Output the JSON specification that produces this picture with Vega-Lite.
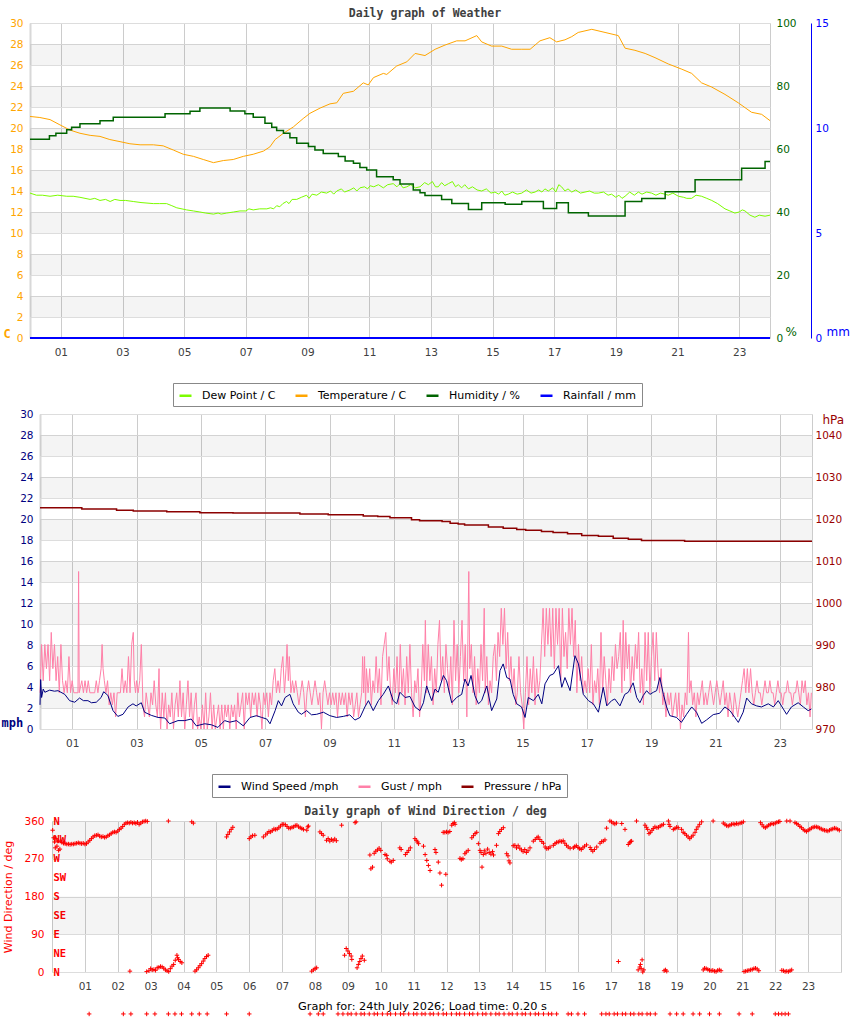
{
  "$schema": "https://vega.github.io/schema/vega-lite/v6.json",
  "padding": {"left": 0, "top": 7, "right": 0, "bottom": 0},
  "config": {
    "view": {"stroke": "#cccccc"},
    "font": "DejaVu Sans",
    "axis": {"labelFont": "DejaVu Sans", "labelFontSize": 10.5, "titleFont": "DejaVu Sans", "ticks": false, "tickSize": 0, "domain": false, "labelBound": false, "labelOverlap": false, "labelSeparation": 0}
  },
  "datasets": {
    "bands30": [{"lo": 2, "hi": 4}, {"lo": 6, "hi": 8}, {"lo": 10, "hi": 12}, {"lo": 14, "hi": 16}, {"lo": 18, "hi": 20}, {"lo": 22, "hi": 24}, {"lo": 26, "hi": 28}],
    "bands360": [{"lo": 90, "hi": 180}, {"lo": 270, "hi": 360}],
    "temp": [{"h":0,"v":21.1},{"h":0.32,"v":21.0},{"h":0.65,"v":20.8},{"h":0.97,"v":20.3},{"h":1.3,"v":19.8},{"h":1.62,"v":19.5},{"h":1.95,"v":19.3},{"h":2.27,"v":19.2},{"h":2.59,"v":18.9},{"h":2.92,"v":18.7},{"h":3.24,"v":18.5},{"h":3.57,"v":18.4},{"h":4.0,"v":18.4},{"h":4.32,"v":18.3},{"h":4.65,"v":17.9},{"h":4.97,"v":17.5},{"h":5.3,"v":17.3},{"h":5.62,"v":17.0},{"h":5.95,"v":16.7},{"h":6.27,"v":16.9},{"h":6.59,"v":17.0},{"h":6.92,"v":17.3},{"h":7.24,"v":17.5},{"h":7.57,"v":17.8},{"h":7.78,"v":18.2},{"h":7.95,"v":18.9},{"h":8.22,"v":19.5},{"h":8.54,"v":20.1},{"h":8.86,"v":20.9},{"h":9.08,"v":21.4},{"h":9.41,"v":21.9},{"h":9.73,"v":22.3},{"h":9.95,"v":22.4},{"h":10.16,"v":23.3},{"h":10.49,"v":23.5},{"h":10.81,"v":24.3},{"h":10.97,"v":24.1},{"h":11.14,"v":24.8},{"h":11.46,"v":25.2},{"h":11.57,"v":25.1},{"h":11.89,"v":25.9},{"h":12.22,"v":26.3},{"h":12.49,"v":27.1},{"h":12.81,"v":26.9},{"h":13.14,"v":27.5},{"h":13.46,"v":27.9},{"h":13.84,"v":28.3},{"h":14.11,"v":28.3},{"h":14.49,"v":28.8},{"h":14.65,"v":28.2},{"h":14.97,"v":27.8},{"h":15.3,"v":27.8},{"h":15.62,"v":27.5},{"h":15.95,"v":27.5},{"h":16.22,"v":27.5},{"h":16.54,"v":28.3},{"h":16.86,"v":28.6},{"h":17.08,"v":28.2},{"h":17.35,"v":28.4},{"h":17.57,"v":28.7},{"h":17.78,"v":29.1},{"h":18.22,"v":29.4},{"h":18.65,"v":29.1},{"h":19.08,"v":28.8},{"h":19.3,"v":27.6},{"h":19.62,"v":27.4},{"h":19.95,"v":27.1},{"h":20.27,"v":26.7},{"h":20.7,"v":26.1},{"h":21.14,"v":25.6},{"h":21.46,"v":25.2},{"h":21.78,"v":24.3},{"h":22.11,"v":23.9},{"h":22.54,"v":23.2},{"h":22.97,"v":22.4},{"h":23.4,"v":21.5},{"h":23.73,"v":21.3},{"h":24.0,"v":20.7}],
    "dew": [{"h":0,"v":13.8},{"h":0.21,"v":13.6},{"h":0.4,"v":13.6},{"h":0.65,"v":13.5},{"h":0.9,"v":13.6},{"h":1.19,"v":13.5},{"h":1.4,"v":13.5},{"h":1.62,"v":13.4},{"h":1.95,"v":13.2},{"h":2.1,"v":13.3},{"h":2.27,"v":13.1},{"h":2.45,"v":13.2},{"h":2.6,"v":13.0},{"h":2.75,"v":13.2},{"h":2.92,"v":13.1},{"h":3.1,"v":13.1},{"h":3.35,"v":13.0},{"h":3.6,"v":12.9},{"h":4.0,"v":12.8},{"h":4.2,"v":12.8},{"h":4.43,"v":12.8},{"h":4.6,"v":12.6},{"h":4.76,"v":12.4},{"h":5.08,"v":12.2},{"h":5.3,"v":12.1},{"h":5.51,"v":12.0},{"h":5.7,"v":11.9},{"h":5.95,"v":11.8},{"h":6.1,"v":11.9},{"h":6.2,"v":11.8},{"h":6.38,"v":11.9},{"h":6.6,"v":12.0},{"h":6.81,"v":12.1},{"h":7.0,"v":12.1},{"h":7.1,"v":12.3},{"h":7.24,"v":12.2},{"h":7.45,"v":12.3},{"h":7.68,"v":12.3},{"h":7.8,"v":12.4},{"h":7.9,"v":12.3},{"h":8.0,"v":12.6},{"h":8.1,"v":12.5},{"h":8.2,"v":12.8},{"h":8.32,"v":13.0},{"h":8.4,"v":12.8},{"h":8.5,"v":13.2},{"h":8.65,"v":13.2},{"h":8.8,"v":13.4},{"h":8.97,"v":13.6},{"h":9.05,"v":13.3},{"h":9.15,"v":13.7},{"h":9.3,"v":13.6},{"h":9.45,"v":13.9},{"h":9.62,"v":13.8},{"h":9.75,"v":14.0},{"h":9.85,"v":13.7},{"h":9.95,"v":14.0},{"h":10.1,"v":14.2},{"h":10.2,"v":13.9},{"h":10.38,"v":14.1},{"h":10.5,"v":14.3},{"h":10.6,"v":14.0},{"h":10.7,"v":14.3},{"h":10.85,"v":14.4},{"h":10.95,"v":14.2},{"h":11.03,"v":14.5},{"h":11.15,"v":14.4},{"h":11.3,"v":14.6},{"h":11.46,"v":14.3},{"h":11.6,"v":14.6},{"h":11.78,"v":14.7},{"h":11.9,"v":14.4},{"h":12.0,"v":14.7},{"h":12.1,"v":14.3},{"h":12.22,"v":14.4},{"h":12.35,"v":14.6},{"h":12.5,"v":14.3},{"h":12.65,"v":14.4},{"h":12.8,"v":14.8},{"h":12.92,"v":14.6},{"h":13.05,"v":14.9},{"h":13.15,"v":14.4},{"h":13.24,"v":14.4},{"h":13.35,"v":14.8},{"h":13.45,"v":14.5},{"h":13.57,"v":14.7},{"h":13.7,"v":14.9},{"h":13.8,"v":14.4},{"h":13.89,"v":14.6},{"h":14.0,"v":14.3},{"h":14.1,"v":14.6},{"h":14.22,"v":14.2},{"h":14.35,"v":14.4},{"h":14.5,"v":14.1},{"h":14.65,"v":14.0},{"h":14.8,"v":14.2},{"h":14.95,"v":13.8},{"h":15.08,"v":13.9},{"h":15.2,"v":13.7},{"h":15.3,"v":14.0},{"h":15.4,"v":13.6},{"h":15.51,"v":13.7},{"h":15.65,"v":13.9},{"h":15.8,"v":13.7},{"h":15.95,"v":13.8},{"h":16.1,"v":14.1},{"h":16.25,"v":13.8},{"h":16.38,"v":13.9},{"h":16.5,"v":14.1},{"h":16.6,"v":13.9},{"h":16.7,"v":14.2},{"h":16.81,"v":14.0},{"h":16.95,"v":14.3},{"h":17.05,"v":13.9},{"h":17.15,"v":14.6},{"h":17.24,"v":14.4},{"h":17.35,"v":14.0},{"h":17.45,"v":14.2},{"h":17.57,"v":13.9},{"h":17.7,"v":14.1},{"h":17.85,"v":13.8},{"h":18.0,"v":13.9},{"h":18.15,"v":14.0},{"h":18.3,"v":13.8},{"h":18.43,"v":13.8},{"h":18.6,"v":13.9},{"h":18.75,"v":13.6},{"h":18.86,"v":13.7},{"h":19.0,"v":13.4},{"h":19.1,"v":13.6},{"h":19.2,"v":13.3},{"h":19.3,"v":13.5},{"h":19.45,"v":13.9},{"h":19.6,"v":13.6},{"h":19.73,"v":13.9},{"h":19.85,"v":13.7},{"h":20.0,"v":13.9},{"h":20.16,"v":13.8},{"h":20.3,"v":13.6},{"h":20.45,"v":13.8},{"h":20.59,"v":13.7},{"h":20.7,"v":13.6},{"h":20.85,"v":13.8},{"h":21.03,"v":13.5},{"h":21.2,"v":13.4},{"h":21.3,"v":13.3},{"h":21.46,"v":13.3},{"h":21.6,"v":13.6},{"h":21.78,"v":13.5},{"h":21.95,"v":13.3},{"h":22.11,"v":13.1},{"h":22.3,"v":12.8},{"h":22.54,"v":12.3},{"h":22.7,"v":12.1},{"h":22.86,"v":11.9},{"h":23.0,"v":12.0},{"h":23.1,"v":12.2},{"h":23.19,"v":12.1},{"h":23.35,"v":11.7},{"h":23.51,"v":11.5},{"h":23.65,"v":11.7},{"h":23.84,"v":11.6},{"h":24.0,"v":11.7}],
    "hum": [{"h":0,"v":63.1},{"h":0.63,"v":64.2},{"h":0.84,"v":65.0},{"h":1.19,"v":66.1},{"h":1.35,"v":66.9},{"h":1.62,"v":68.0},{"h":2.27,"v":69.0},{"h":2.7,"v":70.1},{"h":4.38,"v":71.2},{"h":5.19,"v":72.0},{"h":5.51,"v":73.0},{"h":6.49,"v":72.1},{"h":6.97,"v":71.2},{"h":7.24,"v":70.1},{"h":7.62,"v":68.2},{"h":7.84,"v":66.9},{"h":8.0,"v":65.9},{"h":8.22,"v":65.0},{"h":8.43,"v":63.6},{"h":8.65,"v":61.8},{"h":9.03,"v":60.8},{"h":9.24,"v":59.7},{"h":9.51,"v":58.6},{"h":10.0,"v":57.6},{"h":10.22,"v":56.2},{"h":10.49,"v":55.5},{"h":10.7,"v":54.1},{"h":10.92,"v":53.3},{"h":11.24,"v":51.2},{"h":11.78,"v":50.2},{"h":12.0,"v":48.9},{"h":12.43,"v":47.0},{"h":12.65,"v":46.1},{"h":12.81,"v":45.2},{"h":13.35,"v":44.0},{"h":13.68,"v":42.7},{"h":14.22,"v":40.8},{"h":14.65,"v":42.9},{"h":15.41,"v":42.5},{"h":15.95,"v":43.3},{"h":16.65,"v":41.1},{"h":17.08,"v":42.9},{"h":17.46,"v":39.8},{"h":18.11,"v":38.7},{"h":19.3,"v":43.3},{"h":19.84,"v":44.3},{"h":20.6,"v":46.4},{"h":21.57,"v":50.2},{"h":23.08,"v":53.9},{"h":23.84,"v":56.0},{"h":24.0,"v":56.0}],
    "rain": [{"h":0,"v":0},{"h":24,"v":0}],
    "wind": [{"h":0,"v":2.3},{"h":0.02,"v":4.7},{"h":0.05,"v":3.0},{"h":0.1,"v":3.8},{"h":0.15,"v":3.5},{"h":0.3,"v":3.7},{"h":0.45,"v":3.6},{"h":0.56,"v":3.65},{"h":0.77,"v":3.3},{"h":0.92,"v":2.7},{"h":1.08,"v":2.55},{"h":1.23,"v":2.95},{"h":1.35,"v":2.7},{"h":1.49,"v":2.7},{"h":1.6,"v":2.5},{"h":1.75,"v":2.55},{"h":1.9,"v":3.0},{"h":1.98,"v":3.55},{"h":2.11,"v":3.2},{"h":2.27,"v":1.75},{"h":2.42,"v":1.2},{"h":2.58,"v":1.4},{"h":2.74,"v":2.1},{"h":2.89,"v":2.4},{"h":2.99,"v":2.2},{"h":3.15,"v":2.5},{"h":3.25,"v":1.6},{"h":3.46,"v":1.3},{"h":3.67,"v":1.1},{"h":3.88,"v":1.05},{"h":4.03,"v":0.5},{"h":4.29,"v":0.8},{"h":4.5,"v":0.8},{"h":4.7,"v":0.95},{"h":4.86,"v":0.3},{"h":5.12,"v":0.5},{"h":5.33,"v":0.4},{"h":5.53,"v":0.15},{"h":5.74,"v":0.8},{"h":5.9,"v":0.65},{"h":6.11,"v":0.8},{"h":6.32,"v":0.3},{"h":6.53,"v":1.1},{"h":6.73,"v":1.27},{"h":6.89,"v":1.1},{"h":7.05,"v":0.95},{"h":7.15,"v":0.5},{"h":7.31,"v":1.75},{"h":7.41,"v":2.7},{"h":7.51,"v":2.2},{"h":7.62,"v":3.0},{"h":7.77,"v":3.3},{"h":7.87,"v":2.4},{"h":8.03,"v":1.6},{"h":8.13,"v":1.4},{"h":8.29,"v":1.75},{"h":8.44,"v":1.35},{"h":8.6,"v":1.4},{"h":8.81,"v":1.6},{"h":9.01,"v":1.27},{"h":9.22,"v":1.1},{"h":9.43,"v":1.2},{"h":9.63,"v":1.35},{"h":9.79,"v":0.85},{"h":9.95,"v":1.1},{"h":10.1,"v":2.1},{"h":10.21,"v":2.7},{"h":10.36,"v":1.75},{"h":10.52,"v":2.7},{"h":10.67,"v":3.3},{"h":10.83,"v":4.1},{"h":10.98,"v":2.7},{"h":11.09,"v":2.4},{"h":11.19,"v":3.5},{"h":11.35,"v":3.0},{"h":11.5,"v":3.1},{"h":11.66,"v":2.1},{"h":11.81,"v":1.75},{"h":11.92,"v":2.5},{"h":12.02,"v":4.1},{"h":12.12,"v":3.17},{"h":12.18,"v":2.7},{"h":12.28,"v":3.8},{"h":12.38,"v":3.5},{"h":12.54,"v":5.1},{"h":12.64,"v":4.6},{"h":12.8,"v":2.5},{"h":12.95,"v":3.0},{"h":13.11,"v":3.3},{"h":13.21,"v":4.76},{"h":13.31,"v":4.1},{"h":13.4,"v":5.1},{"h":13.52,"v":3.17},{"h":13.63,"v":2.4},{"h":13.73,"v":2.7},{"h":13.89,"v":4.1},{"h":14.04,"v":1.75},{"h":14.2,"v":2.86},{"h":14.3,"v":5.56},{"h":14.4,"v":6.2},{"h":14.51,"v":4.9},{"h":14.61,"v":4.76},{"h":14.71,"v":3.3},{"h":14.82,"v":2.4},{"h":14.97,"v":2.1},{"h":15.08,"v":1.1},{"h":15.18,"v":3.0},{"h":15.34,"v":2.7},{"h":15.49,"v":3.3},{"h":15.6,"v":2.4},{"h":15.7,"v":4.3},{"h":15.85,"v":5.1},{"h":15.96,"v":5.24},{"h":16.12,"v":6.03},{"h":16.22,"v":3.97},{"h":16.32,"v":4.9},{"h":16.48,"v":3.65},{"h":16.63,"v":6.98},{"h":16.74,"v":6.2},{"h":16.89,"v":3.3},{"h":17.05,"v":2.7},{"h":17.2,"v":2.4},{"h":17.36,"v":1.6},{"h":17.51,"v":3.97},{"h":17.62,"v":2.2},{"h":17.77,"v":2.7},{"h":17.87,"v":2.86},{"h":18.03,"v":2.2},{"h":18.18,"v":3.3},{"h":18.29,"v":3.5},{"h":18.44,"v":4.4},{"h":18.55,"v":3.0},{"h":18.65,"v":2.5},{"h":18.75,"v":3.17},{"h":18.86,"v":3.65},{"h":18.96,"v":3.3},{"h":19.07,"v":3.5},{"h":19.17,"v":3.65},{"h":19.27,"v":4.9},{"h":19.38,"v":3.3},{"h":19.48,"v":2.1},{"h":19.58,"v":1.27},{"h":19.79,"v":1.1},{"h":19.94,"v":0.63},{"h":20.1,"v":1.4},{"h":20.26,"v":2.1},{"h":20.41,"v":1.6},{"h":20.57,"v":0.54},{"h":20.72,"v":0.86},{"h":20.93,"v":1.37},{"h":21.13,"v":1.5},{"h":21.29,"v":2.1},{"h":21.45,"v":1.75},{"h":21.6,"v":1.1},{"h":21.71,"v":0.63},{"h":21.86,"v":1.6},{"h":21.97,"v":2.95},{"h":22.12,"v":2.4},{"h":22.28,"v":2.2},{"h":22.43,"v":2.1},{"h":22.64,"v":2.4},{"h":22.8,"v":2.1},{"h":22.95,"v":2.7},{"h":23.11,"v":1.9},{"h":23.21,"v":1.4},{"h":23.36,"v":2.1},{"h":23.57,"v":2.5},{"h":23.73,"v":2.1},{"h":23.88,"v":1.75},{"h":23.98,"v":1.9}],
    "gust": [{"h":0.0,"v":3.45},{"h":0.05,"v":8.05},{"h":0.1,"v":4.6},{"h":0.15,"v":8.05},{"h":0.2,"v":5.75},{"h":0.25,"v":8.05},{"h":0.3,"v":4.6},{"h":0.35,"v":9.2},{"h":0.4,"v":5.75},{"h":0.45,"v":8.05},{"h":0.5,"v":4.6},{"h":0.55,"v":6.9},{"h":0.6,"v":3.45},{"h":0.65,"v":8.05},{"h":0.7,"v":4.6},{"h":0.75,"v":3.45},{"h":0.8,"v":4.6},{"h":0.85,"v":3.45},{"h":0.9,"v":6.9},{"h":0.95,"v":3.45},{"h":1.0,"v":4.6},{"h":1.05,"v":3.45},{"h":1.18,"v":3.45},{"h":1.2,"v":15.0},{"h":1.22,"v":3.45},{"h":1.3,"v":4.6},{"h":1.35,"v":3.45},{"h":1.4,"v":4.6},{"h":1.45,"v":3.45},{"h":1.5,"v":4.6},{"h":1.55,"v":3.45},{"h":1.7,"v":3.45},{"h":1.75,"v":4.6},{"h":1.8,"v":3.45},{"h":1.85,"v":4.6},{"h":1.9,"v":5.75},{"h":1.93,"v":8.05},{"h":1.96,"v":5.75},{"h":2.0,"v":4.6},{"h":2.05,"v":3.45},{"h":2.1,"v":4.6},{"h":2.15,"v":2.3},{"h":2.2,"v":3.45},{"h":2.25,"v":2.3},{"h":2.3,"v":3.45},{"h":2.35,"v":1.15},{"h":2.4,"v":3.45},{"h":2.5,"v":3.45},{"h":2.55,"v":5.75},{"h":2.6,"v":3.45},{"h":2.65,"v":4.6},{"h":2.7,"v":3.45},{"h":2.75,"v":6.9},{"h":2.8,"v":3.45},{"h":2.85,"v":8.05},{"h":2.9,"v":9.2},{"h":2.93,"v":4.6},{"h":2.97,"v":3.45},{"h":3.0,"v":4.6},{"h":3.05,"v":3.45},{"h":3.1,"v":4.6},{"h":3.15,"v":8.05},{"h":3.2,"v":2.3},{"h":3.25,"v":1.15},{"h":3.3,"v":3.45},{"h":3.35,"v":2.3},{"h":3.4,"v":1.15},{"h":3.45,"v":3.45},{"h":3.5,"v":2.3},{"h":3.55,"v":4.6},{"h":3.6,"v":2.3},{"h":3.65,"v":1.15},{"h":3.7,"v":5.75},{"h":3.72,"v":2.3},{"h":3.75,"v":0},{"h":3.8,"v":3.45},{"h":3.85,"v":1.15},{"h":3.9,"v":3.45},{"h":3.95,"v":0},{"h":4.0,"v":2.3},{"h":4.05,"v":1.15},{"h":4.1,"v":3.45},{"h":4.15,"v":0},{"h":4.2,"v":2.3},{"h":4.25,"v":3.45},{"h":4.3,"v":1.15},{"h":4.35,"v":4.6},{"h":4.4,"v":1.15},{"h":4.45,"v":3.45},{"h":4.5,"v":0},{"h":4.55,"v":2.3},{"h":4.6,"v":4.6},{"h":4.65,"v":1.15},{"h":4.7,"v":3.45},{"h":4.75,"v":0},{"h":4.8,"v":2.3},{"h":4.85,"v":3.45},{"h":4.9,"v":0},{"h":4.95,"v":1.15},{"h":5.0,"v":0},{"h":5.05,"v":2.3},{"h":5.1,"v":0},{"h":5.15,"v":3.45},{"h":5.2,"v":0},{"h":5.25,"v":1.15},{"h":5.3,"v":3.45},{"h":5.35,"v":0},{"h":5.4,"v":2.3},{"h":5.45,"v":0},{"h":5.5,"v":1.15},{"h":5.55,"v":2.3},{"h":5.6,"v":0},{"h":5.65,"v":2.3},{"h":5.7,"v":0},{"h":5.75,"v":2.3},{"h":5.8,"v":1.15},{"h":5.85,"v":2.3},{"h":5.9,"v":0},{"h":5.95,"v":2.3},{"h":6.0,"v":1.15},{"h":6.05,"v":2.3},{"h":6.1,"v":0},{"h":6.15,"v":3.45},{"h":6.2,"v":1.15},{"h":6.25,"v":2.3},{"h":6.3,"v":3.45},{"h":6.35,"v":0},{"h":6.4,"v":3.45},{"h":6.45,"v":2.3},{"h":6.5,"v":3.45},{"h":6.55,"v":1.15},{"h":6.6,"v":3.45},{"h":6.65,"v":2.3},{"h":6.7,"v":3.45},{"h":6.75,"v":1.15},{"h":6.8,"v":3.45},{"h":6.85,"v":2.3},{"h":6.9,"v":0},{"h":6.95,"v":3.45},{"h":7.0,"v":2.3},{"h":7.05,"v":3.45},{"h":7.1,"v":1.15},{"h":7.15,"v":3.45},{"h":7.2,"v":2.3},{"h":7.25,"v":4.6},{"h":7.3,"v":5.75},{"h":7.35,"v":3.45},{"h":7.4,"v":4.6},{"h":7.45,"v":3.45},{"h":7.5,"v":5.75},{"h":7.55,"v":6.9},{"h":7.6,"v":3.45},{"h":7.65,"v":5.75},{"h":7.68,"v":8.05},{"h":7.72,"v":4.6},{"h":7.75,"v":6.9},{"h":7.8,"v":3.45},{"h":7.85,"v":4.6},{"h":7.9,"v":3.45},{"h":7.95,"v":4.6},{"h":8.0,"v":3.45},{"h":8.05,"v":2.3},{"h":8.1,"v":3.45},{"h":8.15,"v":4.6},{"h":8.2,"v":3.45},{"h":8.25,"v":1.15},{"h":8.3,"v":3.45},{"h":8.35,"v":4.6},{"h":8.4,"v":3.45},{"h":8.45,"v":2.3},{"h":8.5,"v":3.45},{"h":8.55,"v":4.6},{"h":8.6,"v":3.45},{"h":8.65,"v":2.3},{"h":8.7,"v":3.45},{"h":8.75,"v":0},{"h":8.8,"v":3.45},{"h":8.85,"v":4.6},{"h":8.9,"v":3.45},{"h":8.95,"v":2.3},{"h":9.0,"v":3.45},{"h":9.05,"v":2.3},{"h":9.1,"v":3.45},{"h":9.15,"v":2.3},{"h":9.2,"v":3.45},{"h":9.25,"v":1.15},{"h":9.3,"v":3.45},{"h":9.35,"v":2.3},{"h":9.4,"v":3.45},{"h":9.45,"v":2.3},{"h":9.5,"v":3.45},{"h":9.55,"v":1.15},{"h":9.6,"v":3.45},{"h":9.65,"v":2.3},{"h":9.7,"v":3.45},{"h":9.75,"v":1.15},{"h":9.8,"v":2.3},{"h":9.85,"v":3.45},{"h":9.9,"v":1.15},{"h":9.95,"v":2.3},{"h":10.0,"v":3.45},{"h":10.03,"v":6.9},{"h":10.06,"v":3.45},{"h":10.09,"v":6.9},{"h":10.12,"v":2.3},{"h":10.15,"v":5.75},{"h":10.2,"v":3.45},{"h":10.25,"v":5.75},{"h":10.3,"v":2.3},{"h":10.35,"v":4.6},{"h":10.4,"v":3.45},{"h":10.45,"v":6.9},{"h":10.5,"v":3.45},{"h":10.55,"v":5.75},{"h":10.6,"v":2.3},{"h":10.65,"v":6.9},{"h":10.7,"v":8.05},{"h":10.75,"v":9.2},{"h":10.8,"v":4.6},{"h":10.85,"v":6.9},{"h":10.9,"v":3.45},{"h":10.95,"v":2.3},{"h":11.0,"v":5.75},{"h":11.05,"v":3.45},{"h":11.1,"v":6.9},{"h":11.15,"v":2.3},{"h":11.2,"v":8.05},{"h":11.25,"v":3.45},{"h":11.3,"v":5.75},{"h":11.35,"v":2.3},{"h":11.4,"v":6.9},{"h":11.45,"v":3.45},{"h":11.5,"v":8.05},{"h":11.55,"v":3.45},{"h":11.6,"v":1.15},{"h":11.65,"v":4.6},{"h":11.7,"v":3.45},{"h":11.75,"v":5.75},{"h":11.8,"v":1.15},{"h":11.85,"v":3.45},{"h":11.9,"v":8.05},{"h":11.95,"v":4.6},{"h":11.98,"v":10.35},{"h":12.02,"v":3.45},{"h":12.07,"v":8.05},{"h":12.12,"v":4.6},{"h":12.17,"v":6.9},{"h":12.22,"v":2.3},{"h":12.27,"v":5.75},{"h":12.32,"v":3.45},{"h":12.37,"v":8.05},{"h":12.42,"v":10.35},{"h":12.47,"v":4.6},{"h":12.52,"v":6.9},{"h":12.57,"v":3.45},{"h":12.62,"v":8.05},{"h":12.67,"v":5.75},{"h":12.72,"v":3.45},{"h":12.77,"v":6.9},{"h":12.82,"v":2.3},{"h":12.87,"v":10.35},{"h":12.92,"v":4.6},{"h":12.97,"v":8.05},{"h":13.02,"v":3.45},{"h":13.07,"v":6.9},{"h":13.12,"v":10.35},{"h":13.17,"v":4.6},{"h":13.22,"v":8.05},{"h":13.27,"v":1.15},{"h":13.33,"v":15.0},{"h":13.36,"v":5.75},{"h":13.41,"v":8.05},{"h":13.46,"v":3.45},{"h":13.51,"v":6.9},{"h":13.56,"v":2.3},{"h":13.61,"v":5.75},{"h":13.66,"v":3.45},{"h":13.71,"v":8.05},{"h":13.76,"v":4.6},{"h":13.81,"v":11.5},{"h":13.84,"v":3.45},{"h":13.89,"v":6.9},{"h":13.94,"v":2.3},{"h":13.99,"v":4.6},{"h":14.04,"v":3.45},{"h":14.09,"v":6.9},{"h":14.14,"v":8.05},{"h":14.19,"v":4.6},{"h":14.24,"v":9.2},{"h":14.29,"v":6.9},{"h":14.34,"v":11.5},{"h":14.39,"v":8.05},{"h":14.44,"v":11.5},{"h":14.49,"v":5.75},{"h":14.54,"v":9.2},{"h":14.59,"v":4.6},{"h":14.64,"v":6.9},{"h":14.69,"v":3.45},{"h":14.74,"v":5.75},{"h":14.79,"v":2.3},{"h":14.84,"v":3.45},{"h":14.89,"v":6.9},{"h":14.94,"v":3.45},{"h":14.99,"v":2.3},{"h":15.04,"v":0},{"h":15.09,"v":3.45},{"h":15.14,"v":6.9},{"h":15.19,"v":2.3},{"h":15.24,"v":5.75},{"h":15.29,"v":3.45},{"h":15.34,"v":6.9},{"h":15.39,"v":2.3},{"h":15.44,"v":5.75},{"h":15.49,"v":3.45},{"h":15.54,"v":4.6},{"h":15.59,"v":8.05},{"h":15.64,"v":11.5},{"h":15.69,"v":6.9},{"h":15.74,"v":11.5},{"h":15.79,"v":8.05},{"h":15.84,"v":11.5},{"h":15.89,"v":6.9},{"h":15.94,"v":11.5},{"h":15.99,"v":5.75},{"h":16.04,"v":11.5},{"h":16.09,"v":8.05},{"h":16.14,"v":11.5},{"h":16.19,"v":4.6},{"h":16.24,"v":11.5},{"h":16.29,"v":6.9},{"h":16.34,"v":9.2},{"h":16.39,"v":5.75},{"h":16.44,"v":11.5},{"h":16.49,"v":8.05},{"h":16.54,"v":11.5},{"h":16.59,"v":6.9},{"h":16.64,"v":10.35},{"h":16.69,"v":3.45},{"h":16.74,"v":8.05},{"h":16.79,"v":4.6},{"h":16.84,"v":6.9},{"h":16.89,"v":3.45},{"h":16.94,"v":4.6},{"h":16.99,"v":3.45},{"h":17.04,"v":5.75},{"h":17.09,"v":3.45},{"h":17.14,"v":8.05},{"h":17.19,"v":2.3},{"h":17.24,"v":4.6},{"h":17.29,"v":3.45},{"h":17.34,"v":5.75},{"h":17.39,"v":2.3},{"h":17.44,"v":9.2},{"h":17.49,"v":3.45},{"h":17.54,"v":6.9},{"h":17.59,"v":4.6},{"h":17.64,"v":2.3},{"h":17.69,"v":5.75},{"h":17.74,"v":3.45},{"h":17.79,"v":6.9},{"h":17.84,"v":4.6},{"h":17.89,"v":8.05},{"h":17.94,"v":5.75},{"h":17.99,"v":6.9},{"h":18.04,"v":9.2},{"h":18.09,"v":3.45},{"h":18.13,"v":10.35},{"h":18.17,"v":4.6},{"h":18.21,"v":9.2},{"h":18.26,"v":5.75},{"h":18.31,"v":8.05},{"h":18.36,"v":3.45},{"h":18.41,"v":6.9},{"h":18.46,"v":4.6},{"h":18.51,"v":8.05},{"h":18.56,"v":5.75},{"h":18.61,"v":9.2},{"h":18.66,"v":3.45},{"h":18.71,"v":5.75},{"h":18.76,"v":2.3},{"h":18.81,"v":9.2},{"h":18.86,"v":4.6},{"h":18.91,"v":9.2},{"h":18.96,"v":3.45},{"h":19.01,"v":6.9},{"h":19.06,"v":9.2},{"h":19.11,"v":4.6},{"h":19.16,"v":9.2},{"h":19.21,"v":5.75},{"h":19.26,"v":3.45},{"h":19.31,"v":5.75},{"h":19.36,"v":2.3},{"h":19.41,"v":3.45},{"h":19.46,"v":1.15},{"h":19.51,"v":3.45},{"h":19.56,"v":2.3},{"h":19.61,"v":3.45},{"h":19.66,"v":1.15},{"h":19.71,"v":2.3},{"h":19.76,"v":3.45},{"h":19.81,"v":1.15},{"h":19.86,"v":3.45},{"h":19.91,"v":0},{"h":19.96,"v":2.3},{"h":20.01,"v":1.15},{"h":20.06,"v":3.45},{"h":20.11,"v":2.3},{"h":20.16,"v":9.2},{"h":20.19,"v":3.45},{"h":20.24,"v":4.6},{"h":20.29,"v":2.3},{"h":20.34,"v":3.45},{"h":20.39,"v":1.15},{"h":20.44,"v":3.45},{"h":20.49,"v":2.3},{"h":20.54,"v":3.45},{"h":20.59,"v":4.6},{"h":20.64,"v":2.3},{"h":20.69,"v":3.45},{"h":20.74,"v":2.3},{"h":20.79,"v":3.45},{"h":20.84,"v":4.6},{"h":20.89,"v":3.45},{"h":20.94,"v":2.3},{"h":20.99,"v":3.45},{"h":21.04,"v":4.6},{"h":21.09,"v":3.45},{"h":21.14,"v":2.3},{"h":21.19,"v":3.45},{"h":21.24,"v":4.6},{"h":21.29,"v":2.3},{"h":21.34,"v":3.45},{"h":21.39,"v":1.15},{"h":21.44,"v":3.45},{"h":21.49,"v":2.3},{"h":21.54,"v":1.15},{"h":21.59,"v":3.45},{"h":21.64,"v":2.3},{"h":21.69,"v":1.15},{"h":21.74,"v":2.3},{"h":21.79,"v":3.45},{"h":21.84,"v":4.6},{"h":21.89,"v":5.75},{"h":21.94,"v":3.45},{"h":21.99,"v":5.75},{"h":22.04,"v":3.45},{"h":22.09,"v":5.75},{"h":22.14,"v":3.45},{"h":22.19,"v":2.3},{"h":22.24,"v":3.45},{"h":22.29,"v":4.6},{"h":22.34,"v":3.45},{"h":22.39,"v":3.45},{"h":22.44,"v":2.3},{"h":22.49,"v":3.45},{"h":22.54,"v":4.6},{"h":22.59,"v":3.45},{"h":22.64,"v":3.45},{"h":22.69,"v":4.6},{"h":22.74,"v":3.45},{"h":22.79,"v":3.45},{"h":22.84,"v":2.3},{"h":22.89,"v":3.45},{"h":22.94,"v":4.6},{"h":22.99,"v":3.45},{"h":23.04,"v":3.45},{"h":23.09,"v":2.3},{"h":23.14,"v":3.45},{"h":23.19,"v":3.45},{"h":23.24,"v":4.6},{"h":23.29,"v":3.45},{"h":23.34,"v":3.45},{"h":23.39,"v":2.3},{"h":23.44,"v":3.45},{"h":23.49,"v":3.45},{"h":23.54,"v":4.6},{"h":23.59,"v":3.45},{"h":23.64,"v":2.3},{"h":23.69,"v":4.6},{"h":23.74,"v":3.45},{"h":23.79,"v":4.6},{"h":23.84,"v":2.3},{"h":23.89,"v":3.45},{"h":23.94,"v":1.15},{"h":23.98,"v":3.45}],
    "press": [{"h":0,"v":1022.7},{"h":1.3,"v":1022.4},{"h":2.38,"v":1022.1},{"h":2.9,"v":1021.9},{"h":3.94,"v":1021.7},{"h":4.97,"v":1021.5},{"h":6.0,"v":1021.4},{"h":8.08,"v":1021.2},{"h":8.96,"v":1021.0},{"h":10.05,"v":1020.7},{"h":10.5,"v":1020.6},{"h":10.88,"v":1020.3},{"h":11.55,"v":1019.8},{"h":11.8,"v":1019.6},{"h":12.5,"v":1019.4},{"h":12.75,"v":1019.0},{"h":13.0,"v":1018.8},{"h":13.2,"v":1018.6},{"h":13.94,"v":1018.1},{"h":14.4,"v":1017.8},{"h":14.82,"v":1017.5},{"h":15.1,"v":1017.3},{"h":15.59,"v":1017.0},{"h":15.95,"v":1016.8},{"h":16.4,"v":1016.5},{"h":16.84,"v":1016.1},{"h":17.36,"v":1015.9},{"h":17.82,"v":1015.4},{"h":18.29,"v":1015.2},{"h":18.7,"v":1014.9},{"h":20.04,"v":1014.7},{"h":24,"v":1014.7}],
    "dir": [{"h":0.02,"d":338},{"h":0.05,"d":320},{"h":0.08,"d":310},{"h":0.1,"d":296},{"h":0.12,"d":318},{"h":0.15,"d":300},{"h":0.18,"d":312},{"h":0.2,"d":290},{"h":0.24,"d":293},{"h":0.25,"d":312},{"h":0.3,"d":309},{"h":0.35,"d":307},{"h":0.4,"d":306},{"h":0.45,"d":305},{"h":0.5,"d":305},{"h":0.55,"d":304},{"h":0.6,"d":305},{"h":0.65,"d":305},{"h":0.7,"d":306},{"h":0.75,"d":307},{"h":0.8,"d":308},{"h":0.85,"d":307},{"h":0.9,"d":306},{"h":0.95,"d":307},{"h":1.0,"d":305},{"h":1.05,"d":306},{"h":1.1,"d":310},{"h":1.15,"d":314},{"h":1.2,"d":318},{"h":1.25,"d":322},{"h":1.3,"d":325},{"h":1.35,"d":326},{"h":1.4,"d":327},{"h":1.45,"d":324},{"h":1.5,"d":322},{"h":1.55,"d":323},{"h":1.6,"d":321},{"h":1.65,"d":322},{"h":1.7,"d":325},{"h":1.75,"d":327},{"h":1.8,"d":330},{"h":1.85,"d":333},{"h":1.9,"d":334},{"h":1.95,"d":333},{"h":2.0,"d":336},{"h":2.05,"d":340},{"h":2.1,"d":343},{"h":2.15,"d":347},{"h":2.2,"d":352},{"h":2.25,"d":355},{"h":2.3,"d":356},{"h":2.35,"d":355},{"h":2.4,"d":357},{"h":2.45,"d":355},{"h":2.5,"d":356},{"h":2.55,"d":354},{"h":2.6,"d":357},{"h":2.65,"d":352},{"h":2.7,"d":355},{"h":2.75,"d":358},{"h":2.8,"d":359},{"h":2.85,"d":360},{"h":2.9,"d":359},{"h":2.37,"d":2},{"h":2.88,"d":1},{"h":2.95,"d":3},{"h":3.0,"d":8},{"h":3.05,"d":5},{"h":3.1,"d":6},{"h":3.15,"d":4},{"h":3.2,"d":10},{"h":3.25,"d":11},{"h":3.3,"d":13},{"h":3.35,"d":12},{"h":3.4,"d":9},{"h":3.45,"d":5},{"h":3.5,"d":3},{"h":3.55,"d":1},{"h":3.6,"d":8},{"h":3.65,"d":14},{"h":3.7,"d":18},{"h":3.75,"d":28},{"h":3.8,"d":40},{"h":3.82,"d":34},{"h":3.85,"d":30},{"h":3.9,"d":25},{"h":3.95,"d":22},{"h":3.54,"d":360},{"h":4.25,"d":358},{"h":4.3,"d":355},{"h":4.35,"d":2},{"h":4.4,"d":5},{"h":4.45,"d":10},{"h":4.5,"d":15},{"h":4.55,"d":20},{"h":4.6,"d":26},{"h":4.65,"d":32},{"h":4.7,"d":37},{"h":4.75,"d":40},{"h":5.31,"d":322},{"h":5.35,"d":328},{"h":5.4,"d":334},{"h":5.45,"d":340},{"h":5.5,"d":345},{"h":6.0,"d":318},{"h":6.05,"d":322},{"h":6.1,"d":325},{"h":6.17,"d":326},{"h":6.43,"d":322},{"h":6.5,"d":327},{"h":6.55,"d":331},{"h":6.6,"d":335},{"h":6.65,"d":334},{"h":6.7,"d":337},{"h":6.75,"d":341},{"h":6.8,"d":340},{"h":6.85,"d":341},{"h":6.9,"d":344},{"h":6.95,"d":348},{"h":7.0,"d":352},{"h":7.05,"d":352},{"h":7.1,"d":351},{"h":7.15,"d":347},{"h":7.2,"d":343},{"h":7.25,"d":343},{"h":7.3,"d":345},{"h":7.35,"d":346},{"h":7.4,"d":349},{"h":7.45,"d":350},{"h":7.5,"d":346},{"h":7.55,"d":344},{"h":7.6,"d":342},{"h":7.65,"d":340},{"h":7.75,"d":338},{"h":7.78,"d":346},{"h":7.8,"d":348},{"h":7.9,"d":2},{"h":7.95,"d":5},{"h":8.0,"d":8},{"h":8.05,"d":10},{"h":8.15,"d":334},{"h":8.2,"d":330},{"h":8.25,"d":326},{"h":8.35,"d":314},{"h":8.4,"d":318},{"h":8.45,"d":312},{"h":8.5,"d":316},{"h":8.55,"d":313},{"h":8.6,"d":317},{"h":8.65,"d":313},{"h":8.81,"d":350},{"h":8.9,"d":40},{"h":8.95,"d":56},{"h":9.0,"d":50},{"h":9.05,"d":44},{"h":9.1,"d":38},{"h":9.12,"d":30},{"h":9.22,"d":356},{"h":9.25,"d":358},{"h":9.28,"d":10},{"h":9.32,"d":18},{"h":9.36,"d":25},{"h":9.4,"d":32},{"h":9.44,"d":38},{"h":9.5,"d":28},{"h":9.67,"d":279},{"h":9.7,"d":246},{"h":9.75,"d":250},{"h":9.8,"d":283},{"h":9.85,"d":288},{"h":9.9,"d":291},{"h":9.95,"d":295},{"h":10.0,"d":290},{"h":10.13,"d":280},{"h":10.18,"d":278},{"h":10.2,"d":270},{"h":10.28,"d":264},{"h":10.32,"d":262},{"h":10.38,"d":266},{"h":10.58,"d":296},{"h":10.62,"d":292},{"h":10.75,"d":280},{"h":10.8,"d":285},{"h":10.85,"d":290},{"h":10.9,"d":296},{"h":11.04,"d":318},{"h":11.08,"d":314},{"h":11.12,"d":310},{"h":11.15,"d":306},{"h":11.3,"d":300},{"h":11.35,"d":280},{"h":11.4,"d":266},{"h":11.45,"d":254},{"h":11.5,"d":242},{"h":11.65,"d":292},{"h":11.68,"d":285},{"h":11.75,"d":262},{"h":11.8,"d":236},{"h":11.85,"d":207},{"h":11.98,"d":233},{"h":11.9,"d":333},{"h":11.95,"d":333},{"h":12.0,"d":334},{"h":12.05,"d":333},{"h":12.1,"d":335},{"h":12.16,"d":350},{"h":12.2,"d":354},{"h":12.24,"d":356},{"h":12.26,"d":352},{"h":12.41,"d":271},{"h":12.45,"d":268},{"h":12.5,"d":270},{"h":12.56,"d":282},{"h":12.6,"d":286},{"h":12.66,"d":290},{"h":12.77,"d":320},{"h":12.82,"d":325},{"h":12.87,"d":330},{"h":12.92,"d":333},{"h":12.97,"d":306},{"h":13.02,"d":290},{"h":13.05,"d":285},{"h":13.08,"d":250},{"h":13.12,"d":280},{"h":13.15,"d":289},{"h":13.2,"d":283},{"h":13.25,"d":293},{"h":13.3,"d":285},{"h":13.35,"d":281},{"h":13.4,"d":287},{"h":13.43,"d":279},{"h":13.52,"d":302},{"h":13.58,"d":330},{"h":13.62,"d":335},{"h":13.67,"d":340},{"h":13.73,"d":344},{"h":13.83,"d":282},{"h":13.87,"d":277},{"h":13.9,"d":265},{"h":13.93,"d":260},{"h":14.03,"d":301},{"h":14.08,"d":302},{"h":14.13,"d":296},{"h":14.18,"d":301},{"h":14.23,"d":295},{"h":14.28,"d":291},{"h":14.33,"d":287},{"h":14.38,"d":292},{"h":14.43,"d":285},{"h":14.48,"d":289},{"h":14.54,"d":296},{"h":14.64,"d":312},{"h":14.7,"d":316},{"h":14.75,"d":320},{"h":14.79,"d":322},{"h":14.84,"d":316},{"h":14.9,"d":311},{"h":14.95,"d":307},{"h":15.0,"d":298},{"h":15.05,"d":294},{"h":15.1,"d":295},{"h":15.15,"d":298},{"h":15.25,"d":302},{"h":15.3,"d":306},{"h":15.35,"d":309},{"h":15.4,"d":310},{"h":15.45,"d":312},{"h":15.5,"d":311},{"h":15.55,"d":313},{"h":15.6,"d":307},{"h":15.65,"d":302},{"h":15.7,"d":298},{"h":15.76,"d":295},{"h":15.86,"d":296},{"h":15.9,"d":299},{"h":15.95,"d":301},{"h":16.0,"d":297},{"h":16.05,"d":294},{"h":16.1,"d":292},{"h":16.15,"d":296},{"h":16.2,"d":300},{"h":16.26,"d":303},{"h":16.37,"d":297},{"h":16.4,"d":292},{"h":16.45,"d":288},{"h":16.5,"d":292},{"h":16.57,"d":298},{"h":16.67,"d":307},{"h":16.72,"d":311},{"h":16.77,"d":312},{"h":16.82,"d":315},{"h":16.87,"d":343},{"h":16.97,"d":360},{"h":17.02,"d":358},{"h":17.07,"d":355},{"h":17.12,"d":353},{"h":17.17,"d":355},{"h":17.23,"d":25},{"h":17.33,"d":354},{"h":17.43,"d":340},{"h":17.53,"d":304},{"h":17.57,"d":308},{"h":17.6,"d":311},{"h":17.63,"d":312},{"h":17.78,"d":360},{"h":17.83,"d":5},{"h":17.88,"d":12},{"h":17.9,"d":18},{"h":17.92,"d":8},{"h":17.95,"d":29},{"h":17.97,"d":0},{"h":18.0,"d":5},{"h":18.04,"d":350},{"h":18.08,"d":345},{"h":18.12,"d":340},{"h":18.16,"d":330},{"h":18.2,"d":333},{"h":18.25,"d":338},{"h":18.29,"d":342},{"h":18.34,"d":346},{"h":18.4,"d":344},{"h":18.45,"d":345},{"h":18.5,"d":348},{"h":18.55,"d":350},{"h":18.6,"d":352},{"h":18.62,"d":3},{"h":18.66,"d":5},{"h":18.7,"d":2},{"h":18.75,"d":360},{"h":18.77,"d":352},{"h":18.8,"d":347},{"h":18.9,"d":340},{"h":18.95,"d":342},{"h":19.0,"d":345},{"h":19.05,"d":344},{"h":19.15,"d":340},{"h":19.2,"d":333},{"h":19.25,"d":330},{"h":19.3,"d":326},{"h":19.35,"d":322},{"h":19.4,"d":318},{"h":19.45,"d":322},{"h":19.5,"d":326},{"h":19.56,"d":333},{"h":19.6,"d":340},{"h":19.65,"d":346},{"h":19.7,"d":352},{"h":19.76,"d":358},{"h":19.81,"d":5},{"h":19.85,"d":9},{"h":19.9,"d":8},{"h":19.95,"d":6},{"h":20.0,"d":4},{"h":20.05,"d":3},{"h":20.1,"d":4},{"h":20.15,"d":2},{"h":20.2,"d":1},{"h":20.25,"d":4},{"h":20.3,"d":5},{"h":20.35,"d":3},{"h":20.11,"d":360},{"h":20.42,"d":355},{"h":20.47,"d":352},{"h":20.52,"d":349},{"h":20.57,"d":348},{"h":20.62,"d":350},{"h":20.67,"d":352},{"h":20.72,"d":353},{"h":20.77,"d":352},{"h":20.82,"d":354},{"h":20.87,"d":353},{"h":20.93,"d":355},{"h":20.98,"d":356},{"h":21.03,"d":358},{"h":21.05,"d":1},{"h":21.1,"d":2},{"h":21.15,"d":3},{"h":21.2,"d":4},{"h":21.25,"d":5},{"h":21.3,"d":6},{"h":21.35,"d":8},{"h":21.4,"d":9},{"h":21.45,"d":7},{"h":21.5,"d":3},{"h":21.55,"d":356},{"h":21.6,"d":351},{"h":21.65,"d":346},{"h":21.7,"d":344},{"h":21.75,"d":347},{"h":21.8,"d":350},{"h":21.85,"d":352},{"h":21.9,"d":354},{"h":21.95,"d":353},{"h":22.0,"d":355},{"h":22.05,"d":357},{"h":22.1,"d":358},{"h":22.14,"d":359},{"h":22.2,"d":4},{"h":22.25,"d":3},{"h":22.3,"d":1},{"h":22.35,"d":2},{"h":22.4,"d":1},{"h":22.45,"d":3},{"h":22.5,"d":5},{"h":22.35,"d":360},{"h":22.45,"d":360},{"h":22.6,"d":356},{"h":22.65,"d":354},{"h":22.7,"d":351},{"h":22.75,"d":347},{"h":22.8,"d":344},{"h":22.85,"d":340},{"h":22.9,"d":337},{"h":22.95,"d":335},{"h":23.0,"d":338},{"h":23.05,"d":340},{"h":23.1,"d":343},{"h":23.15,"d":345},{"h":23.2,"d":346},{"h":23.25,"d":346},{"h":23.3,"d":345},{"h":23.35,"d":343},{"h":23.4,"d":341},{"h":23.45,"d":339},{"h":23.5,"d":338},{"h":23.55,"d":337},{"h":23.6,"d":336},{"h":23.65,"d":338},{"h":23.7,"d":340},{"h":23.75,"d":341},{"h":23.8,"d":343},{"h":23.85,"d":342},{"h":23.9,"d":340},{"h":23.95,"d":338},
      {"h":1.13,"d":-100},{"h":2.17,"d":-100},{"h":2.4,"d":-100},{"h":2.88,"d":-100},{"h":3.13,"d":-100},{"h":3.54,"d":-100},{"h":3.74,"d":-100},{"h":3.94,"d":-100},{"h":4.25,"d":-100},{"h":4.48,"d":-100},{"h":4.72,"d":-100},{"h":5.31,"d":-100},{"h":6.0,"d":-100},{"h":7.85,"d":-100},{"h":8.1,"d":-100},{"h":8.25,"d":-100},{"h":8.7,"d":-100},{"h":8.85,"d":-100},{"h":9.0,"d":-100},{"h":9.1,"d":-100},{"h":9.25,"d":-100},{"h":9.4,"d":-100},{"h":9.5,"d":-100},{"h":9.65,"d":-100},{"h":9.8,"d":-100},{"h":9.9,"d":-100},{"h":10.05,"d":-100},{"h":10.2,"d":-100},{"h":10.3,"d":-100},{"h":10.45,"d":-100},{"h":10.6,"d":-100},{"h":10.7,"d":-100},{"h":10.85,"d":-100},{"h":11.0,"d":-100},{"h":11.1,"d":-100},{"h":11.25,"d":-100},{"h":11.35,"d":-100},{"h":11.5,"d":-100},{"h":11.6,"d":-100},{"h":11.75,"d":-100},{"h":11.9,"d":-100},{"h":12.0,"d":-100},{"h":12.15,"d":-100},{"h":12.3,"d":-100},{"h":12.4,"d":-100},{"h":12.55,"d":-100},{"h":12.7,"d":-100},{"h":12.8,"d":-100},{"h":12.95,"d":-100},{"h":13.1,"d":-100},{"h":13.2,"d":-100},{"h":13.35,"d":-100},{"h":13.5,"d":-100},{"h":13.6,"d":-100},{"h":13.75,"d":-100},{"h":13.9,"d":-100},{"h":14.0,"d":-100},{"h":14.15,"d":-100},{"h":14.3,"d":-100},{"h":14.4,"d":-100},{"h":14.55,"d":-100},{"h":14.7,"d":-100},{"h":14.8,"d":-100},{"h":14.95,"d":-100},{"h":15.1,"d":-100},{"h":15.2,"d":-100},{"h":15.35,"d":-100},{"h":15.7,"d":-100},{"h":15.8,"d":-100},{"h":16.0,"d":-100},{"h":16.2,"d":-100},{"h":16.72,"d":-100},{"h":16.85,"d":-100},{"h":16.95,"d":-100},{"h":17.1,"d":-100},{"h":17.2,"d":-100},{"h":17.35,"d":-100},{"h":17.45,"d":-100},{"h":17.6,"d":-100},{"h":17.7,"d":-100},{"h":17.85,"d":-100},{"h":17.95,"d":-100},{"h":18.1,"d":-100},{"h":18.2,"d":-100},{"h":18.35,"d":-100},{"h":18.8,"d":-100},{"h":19.0,"d":-100},{"h":19.2,"d":-100},{"h":19.5,"d":-100},{"h":19.7,"d":-100},{"h":20.0,"d":-100},{"h":20.3,"d":-100},{"h":20.9,"d":-100},{"h":21.3,"d":-100},{"h":22.0,"d":-100},{"h":22.1,"d":-100},{"h":22.2,"d":-100},{"h":22.3,"d":-100},{"h":22.4,"d":-100}]
  },
  "concat": [
    {
      "concat": [
        {
          "concat": [
            {"width": 30, "height": 1, "view": {"stroke": null}, "data": {"values": [{}]}, "mark": {"type": "text", "text": ""}},
            {
              "width": 740, "height": 315,
              "title": {"text": "Daily graph of Weather", "font": "DejaVu Sans Mono", "fontWeight": "bold", "fontSize": 11.5, "color": "#404040", "offset": -1, "anchor": "middle", "frame": "group", "dx": 25},
              "layer": [
                {
                  "layer": [
                    {"data": {"name": "bands30"}, "mark": {"type": "rect", "fill": "#000000", "fillOpacity": 0.045},
                     "encoding": {
                       "y": {"field": "lo", "type": "quantitative", "scale": {"domain": [0, 30], "nice": false},
                             "axis": {"orient": "left", "values": [0,2,4,6,8,10,12,14,16,18,20,22,24,26,28,30], "tickCount": 16, "labelOverlap": false, "grid": true, "gridColor": "#dddddd", "labelColor": "#ffa500", "labelPadding": 7, "domain": true, "domainColor": "#d8d8d8", "domainWidth": 2,
                                      "title": "C", "titleAngle": 0, "titleColor": "#ffa500", "titleFont": "DejaVu Sans Mono", "titleFontWeight": "bold", "titleFontSize": 12, "titleX": -27, "titleY": 314, "titleAlign": "left", "titleBaseline": "alphabetic"}},
                       "y2": {"field": "hi"}}},
                    {"data": {"name": "dew"}, "mark": {"type": "line", "strokeWidth": 1},
                     "encoding": {
                       "x": {"field": "h", "type": "quantitative", "scale": {"domain": [0, 24], "nice": false},
                             "axis": {"values": [1,2,3,4,5,6,7,8,9,10,11,12,13,14,15,16,17,18,19,20,21,22,23], "labelExpr": "datum.value < 10 ? '0' + datum.value : '' + datum.value", "grid": true, "gridColor": "#cccccc", "labelColor": "#404040", "labelPadding": 9, "title": null}},
                       "y": {"field": "v", "type": "quantitative",
                             "axis": {"orient": "left", "values": [0,2,4,6,8,10,12,14,16,18,20,22,24,26,28,30], "tickCount": 16, "labelOverlap": false, "grid": true, "gridColor": "#dddddd", "labelColor": "#ffa500", "labelPadding": 7, "domain": true, "domainColor": "#d8d8d8", "domainWidth": 2,
                                      "title": "C", "titleAngle": 0, "titleColor": "#ffa500", "titleFont": "DejaVu Sans Mono", "titleFontWeight": "bold", "titleFontSize": 12, "titleX": -27, "titleY": 314, "titleAlign": "left", "titleBaseline": "alphabetic"}},
                       "color": {"datum": "Dew Point / C",
                                 "scale": {"domain": ["Dew Point / C", "Temperature / C", "Humidity / %", "Rainfall / mm"], "range": ["#7cfc00", "#ffa500", "#006400", "#0000ff"]},
                                 "legend": {"orient": "none", "legendX": 173, "legendY": 360, "direction": "horizontal", "columns": 4, "title": null, "strokeColor": "#888888", "fillColor": "#ffffff", "padding": 5, "symbolType": "stroke", "symbolStrokeWidth": 2.5, "symbolSize": 144, "labelFont": "DejaVu Sans", "labelFontSize": 11, "labelColor": "#000000", "columnPadding": 14, "labelOffset": 9}}}},
                    {"data": {"name": "temp"}, "mark": {"type": "line", "strokeWidth": 1},
                     "encoding": {"x": {"field": "h", "type": "quantitative"},
                                  "y": {"field": "v", "type": "quantitative",
                                        "axis": {"orient": "left", "values": [0,2,4,6,8,10,12,14,16,18,20,22,24,26,28,30], "tickCount": 16, "labelOverlap": false, "grid": true, "gridColor": "#dddddd", "labelColor": "#ffa500", "labelPadding": 7, "domain": true, "domainColor": "#d8d8d8", "domainWidth": 2,
                                                 "title": "C", "titleAngle": 0, "titleColor": "#ffa500", "titleFont": "DejaVu Sans Mono", "titleFontWeight": "bold", "titleFontSize": 12, "titleX": -27, "titleY": 314, "titleAlign": "left", "titleBaseline": "alphabetic"}},
                                  "color": {"datum": "Temperature / C"}}}
                  ]
                },
                {"data": {"name": "hum"}, "mark": {"type": "line", "interpolate": "step-after", "strokeWidth": 1.5},
                 "encoding": {
                   "x": {"field": "h", "type": "quantitative"},
                   "y": {"field": "v", "type": "quantitative", "scale": {"domain": [0, 100], "nice": false},
                         "axis": {"orient": "right", "values": [0,20,40,60,80,100], "labelColor": "#006400", "labelPadding": 6, "grid": false,
                                  "title": "%", "titleAngle": 0, "titleColor": "#006400", "titleFontSize": 12, "titleFontWeight": "normal", "titleX": 15, "titleY": 312, "titleAlign": "left", "titleBaseline": "alphabetic"}},
                   "color": {"datum": "Humidity / %"}}},
                {"data": {"name": "rain"}, "mark": {"type": "line", "strokeWidth": 2},
                 "encoding": {
                   "x": {"field": "h", "type": "quantitative"},
                   "y": {"field": "v", "type": "quantitative", "scale": {"domain": [0, 15], "nice": false},
                         "axis": {"orient": "right", "offset": 41, "values": [0,5,10,15], "domain": true, "domainColor": "#0000ff", "labelColor": "#0000ff", "labelPadding": 4, "grid": false,
                                  "title": "mm", "titleAngle": 0, "titleColor": "#0000ff", "titleFontSize": 12, "titleFontWeight": "normal", "titleX": 15, "titleY": 312, "titleAlign": "left", "titleBaseline": "alphabetic"}},
                   "color": {"datum": "Rainfall / mm"}}}
              ],
              "resolve": {"scale": {"y": "independent"}}
            }
          ],
          "columns": 2, "align": "none", "bounds": "flush", "spacing": 0
        },
        {
          "concat": [
            {"width": 40, "height": 1, "view": {"stroke": null}, "data": {"values": [{}]}, "mark": {"type": "text", "text": ""}},
            {
              "width": 772, "height": 315,
              "layer": [
                {
                  "layer": [
                    {"data": {"name": "bands30"}, "mark": {"type": "rect", "fill": "#000000", "fillOpacity": 0.045},
                     "encoding": {
                       "y": {"field": "lo", "type": "quantitative", "scale": {"domain": [0, 30], "nice": false},
                             "axis": {"orient": "left", "values": [0,2,4,6,8,10,12,14,16,18,20,22,24,26,28,30], "tickCount": 16, "labelOverlap": false, "grid": true, "gridColor": "#dddddd", "labelColor": "#000080", "labelPadding": 7, "domain": true, "domainColor": "#d8d8d8", "domainWidth": 2,
                                      "title": "mph", "titleAngle": 0, "titleColor": "#000080", "titleFont": "DejaVu Sans Mono", "titleFontWeight": "bold", "titleFontSize": 12, "titleX": -39, "titleY": 312, "titleAlign": "left", "titleBaseline": "alphabetic"}},
                       "y2": {"field": "hi"}}},
                    {"data": {"name": "gust"}, "mark": {"type": "line", "strokeWidth": 1},
                     "encoding": {
                       "x": {"field": "h", "type": "quantitative", "scale": {"domain": [0, 24], "nice": false},
                             "axis": {"values": [1,2,3,4,5,6,7,8,9,10,11,12,13,14,15,16,17,18,19,20,21,22,23], "labelExpr": "datum.value < 10 ? '0' + datum.value : '' + datum.value", "grid": true, "gridColor": "#cccccc", "labelColor": "#404040", "labelPadding": 9, "title": null}},
                       "y": {"field": "v", "type": "quantitative",
                             "axis": {"orient": "left", "values": [0,2,4,6,8,10,12,14,16,18,20,22,24,26,28,30], "tickCount": 16, "labelOverlap": false, "grid": true, "gridColor": "#dddddd", "labelColor": "#000080", "labelPadding": 7, "domain": true, "domainColor": "#d8d8d8", "domainWidth": 2,
                                      "title": "mph", "titleAngle": 0, "titleColor": "#000080", "titleFont": "DejaVu Sans Mono", "titleFontWeight": "bold", "titleFontSize": 12, "titleX": -39, "titleY": 312, "titleAlign": "left", "titleBaseline": "alphabetic"}},
                       "color": {"datum": "Gust / mph",
                                 "scale": {"domain": ["Wind Speed /mph", "Gust / mph", "Pressure / hPa"], "range": ["#000080", "#ff80a8", "#8b0000"]},
                                 "legend": {"orient": "none", "legendX": 212, "legendY": 360, "direction": "horizontal", "columns": 3, "title": null, "strokeColor": "#888888", "fillColor": "#ffffff", "padding": 5, "symbolType": "stroke", "symbolStrokeWidth": 2.5, "symbolSize": 144, "labelFont": "DejaVu Sans", "labelFontSize": 11, "labelColor": "#000000", "columnPadding": 14, "labelOffset": 9}}}},
                    {"data": {"name": "wind"}, "mark": {"type": "line", "strokeWidth": 1},
                     "encoding": {"x": {"field": "h", "type": "quantitative"},
                                  "y": {"field": "v", "type": "quantitative",
                                        "axis": {"orient": "left", "values": [0,2,4,6,8,10,12,14,16,18,20,22,24,26,28,30], "tickCount": 16, "labelOverlap": false, "grid": true, "gridColor": "#dddddd", "labelColor": "#000080", "labelPadding": 7, "domain": true, "domainColor": "#d8d8d8", "domainWidth": 2,
                                                 "title": "mph", "titleAngle": 0, "titleColor": "#000080", "titleFont": "DejaVu Sans Mono", "titleFontWeight": "bold", "titleFontSize": 12, "titleX": -39, "titleY": 312, "titleAlign": "left", "titleBaseline": "alphabetic"}},
                                  "color": {"datum": "Wind Speed /mph"}}}
                  ]
                },
                {"data": {"name": "press"}, "mark": {"type": "line", "interpolate": "step-after", "strokeWidth": 1.5},
                 "encoding": {
                   "x": {"field": "h", "type": "quantitative"},
                   "y": {"field": "v", "type": "quantitative", "scale": {"domain": [970, 1045], "nice": false, "zero": false},
                         "axis": {"orient": "right", "values": [970,980,990,1000,1010,1020,1030,1040], "format": "d", "labelColor": "#990000", "labelPadding": 3, "grid": false,
                                  "title": "hPa", "titleAngle": 0, "titleColor": "#990000", "titleFontSize": 12, "titleFontWeight": "normal", "titleX": 10, "titleY": 9, "titleAlign": "left", "titleBaseline": "alphabetic"}},
                   "color": {"datum": "Pressure / hPa"}}}
              ],
              "resolve": {"scale": {"y": "independent"}}
            }
          ],
          "columns": 2, "align": "none", "bounds": "flush", "spacing": 0
        }
      ],
      "columns": 1, "align": "none", "spacing": 1,
      "resolve": {"scale": {"color": "independent"}, "legend": {"color": "independent"}}
    },
    {
      "concat": [
        {"width": 52, "height": 1, "view": {"stroke": null}, "data": {"values": [{}]}, "mark": {"type": "text", "text": ""}},
        {
          "width": 789, "height": 151,
          "title": {"text": "Daily graph of Wind Direction / deg", "font": "DejaVu Sans Mono", "fontWeight": "bold", "fontSize": 11.5, "color": "#404040", "offset": -1, "anchor": "middle", "frame": "group", "dx": -21},
          "layer": [
            {"data": {"name": "bands360"}, "mark": {"type": "rect", "fill": "#000000", "fillOpacity": 0.045},
             "encoding": {
               "y": {"field": "lo", "type": "quantitative", "scale": {"domain": [0, 360], "nice": false},
                     "axis": {"orient": "left", "values": [0, 90, 180, 270, 360], "grid": true, "gridColor": "#dddddd", "labelColor": "#ff0000", "labelPadding": 8,
                              "title": "Wind Direction / deg", "titleColor": "#ff0000", "titleFontSize": 11, "titleFontWeight": "normal", "titleAngle": 270, "titleX": -44, "titleY": 75.5, "titleAlign": "center", "titleBaseline": "middle"}},
               "y2": {"field": "hi"}}},
            {"data": {"name": "dir"}, "mark": {"type": "point", "shape": "M-1,0H1M0,-1V1", "filled": false, "stroke": "#ff0000", "strokeWidth": 1, "size": 20, "opacity": 1},
             "encoding": {
               "x": {"field": "h", "type": "quantitative", "scale": {"domain": [0, 24], "nice": false},
                     "axis": {"values": [1,2,3,4,5,6,7,8,9,10,11,12,13,14,15,16,17,18,19,20,21,22,23], "labelExpr": "datum.value < 10 ? '0' + datum.value : '' + datum.value", "grid": true, "gridColor": "#cccccc", "labelColor": "#404040", "labelPadding": 9,
                              "title": "Graph for: 24th July 2026; Load time: 0.20 s", "titleColor": "#000000", "titleFontSize": 11.3, "titleFontWeight": "normal", "titleX": 370, "titleY": 37, "titleAlign": "center", "titleBaseline": "alphabetic"}},
               "y": {"field": "d", "type": "quantitative",
                     "axis": {"orient": "left", "values": [0, 45, 90, 135, 180, 225, 270, 315, 360], "labelExpr": "['N','NE','E','SE','S','SW','W','NW','N'][round(datum.value / 45)]", "labelAlign": "left", "labelPadding": -1, "labelFont": "DejaVu Sans Mono", "labelFontWeight": "bold", "labelFontSize": 10.5, "labelColor": "#ff0000", "grid": false, "title": null}}}}
          ],
          "resolve": {"axis": {"y": "independent"}}
        }
      ],
      "columns": 2, "align": "none", "bounds": "flush", "spacing": 0
    }
  ],
  "columns": 1, "align": "none", "spacing": 7,
  "resolve": {"scale": {"color": "independent"}, "legend": {"color": "independent"}}
}
